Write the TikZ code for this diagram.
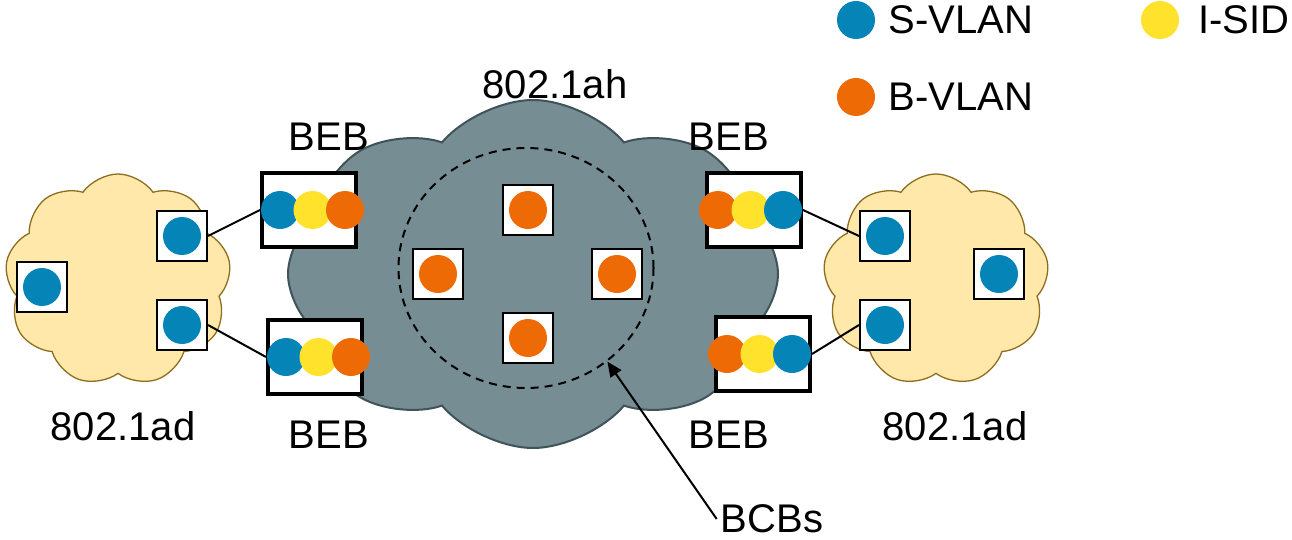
\documentclass[tikz,border=0pt]{standalone}
\usepackage{fontspec}
\setmainfont{Liberation Sans}
\usetikzlibrary{positioning,shapes.symbols,shapes.geometric,arrows.meta}

\definecolor{svlanblue}{HTML}{0584B8}
\definecolor{isidyellow}{HTML}{FFE22B}
\definecolor{bvlanorange}{HTML}{EE6A05}
\definecolor{corefill}{HTML}{768D94}
\definecolor{coreline}{HTML}{3F5359}
\definecolor{accessfill}{HTML}{FFE8A9}
\definecolor{accessline}{HTML}{8E6E1E}

\begin{document}
\begin{tikzpicture}[x=1pt, y=-1pt, node distance=13pt,
    every node/.style={font=\fontsize{40}{48}\selectfont},
    lbl/.style={inner sep=0pt},
    corecloud/.style={cloud, cloud puffs=8, cloud puff arc=100, draw=coreline, line width=2pt, fill=corefill, minimum width=490pt, minimum height=348pt, inner sep=0pt},
    accesscloud/.style={cloud, cloud puffs=9, cloud puff arc=110, draw=accessline, line width=1.3pt, fill=accessfill, minimum width=226pt, minimum height=212pt, inner sep=0pt},
    bebbox/.style={rectangle, draw, line width=4pt, fill=white, minimum width=94pt, minimum height=74pt, inner sep=0pt},
    dotbox/.style={rectangle, draw, line width=2pt, fill=white, minimum size=50pt, inner sep=0pt,
        path picture={\fill[#1] (path picture bounding box.center) circle (19pt);}},
    dot/.style={circle, fill=#1, minimum size=38pt, inner sep=0pt},
    link/.style={line width=2pt}]

    \useasboundingbox (0,0) rectangle (1292,540);

    % 802.1ah core
    \node[corecloud] (core) at (533,274) {};
    \node[ellipse, draw, dashed, line width=2pt, dash pattern=on 8pt off 6pt,
        minimum width=255pt, minimum height=240pt, inner sep=0pt] (ring) at (526,268) {};
    \node[dotbox=bvlanorange] (bcbN) at (528,210) {};
    \node[dotbox=bvlanorange] (bcbW) at (438,274) {};
    \node[dotbox=bvlanorange] (bcbE) at (617,274) {};
    \node[dotbox=bvlanorange] (bcbS) at (528,338) {};

    % 802.1ad access clouds
    \node[accesscloud] (adL) at (118,280) {};
    \node[accesscloud] (adR) at (936,280) {};
    \node[dotbox=svlanblue] (sL1) at (182,236) {};
    \node[dotbox=svlanblue] (sL2) at (182,325) {};
    \node[dotbox=svlanblue] (sL3) at (42,287) {};
    \node[dotbox=svlanblue] (sR1) at (885,236) {};
    \node[dotbox=svlanblue] (sR2) at (885,325) {};
    \node[dotbox=svlanblue] (sR3) at (999,274) {};

    % edge bridges
    \node[bebbox] (bebL1) at (309,210) {};
    \node[bebbox] (bebL2) at (315,357) {};
    \node[bebbox] (bebR1) at (754,210) {};
    \node[bebbox] (bebR2) at (763,354) {};
    \foreach \b in {bebL1,bebL2}
        \foreach \c/\dx in {svlanblue/-29,isidyellow/3.5,bvlanorange/36}
            \fill[\c] ([xshift=\dx pt]\b.center) circle (19pt);
    \foreach \b in {bebR1,bebR2}
        \foreach \c/\dx in {bvlanorange/-36,isidyellow/-3.5,svlanblue/29}
            \fill[\c] ([xshift=\dx pt]\b.center) circle (19pt);

    \draw[link] (sL1.east) -- (bebL1.west);
    \draw[link] (sL2.east) -- (bebL2.west);
    \draw[link] (bebR1.east) -- (sR1.west);
    \draw[link] (bebR2.east) -- (sR2.west);

    % labels
    \node[lbl] (ahlbl) at (555,84) {802.1ah};
    \node[lbl] (adLlbl) at (123,426) {802.1ad};
    \node[lbl] (adRlbl) at (955,426) {802.1ad};
    \node[lbl] (bebL1lbl) at (329,137) {BEB};
    \node[lbl] (bebL2lbl) at (329,435) {BEB};
    \node[lbl] (bebR1lbl) at (729,137) {BEB};
    \node[lbl] (bebR2lbl) at (729,435) {BEB};
    \node[lbl] (bcbs) at (772,519) {BCBs};
    \draw[link, -{Triangle[length=15pt, width=13pt]}] ([xshift=-4pt]bcbs.west) -- (ring.-49);

    % legend
    \node[dot=svlanblue] (lgS) at (856,20) {};
    \node[dot=bvlanorange] (lgB) at (856,97) {};
    \node[dot=isidyellow] (lgI) at (1160,20) {};
    \node[lbl, right=13pt of lgS] {S-VLAN};
    \node[lbl, right=13pt of lgB] {B-VLAN};
    \node[lbl, right=19pt of lgI] {I-SID};
\end{tikzpicture}
\end{document}
